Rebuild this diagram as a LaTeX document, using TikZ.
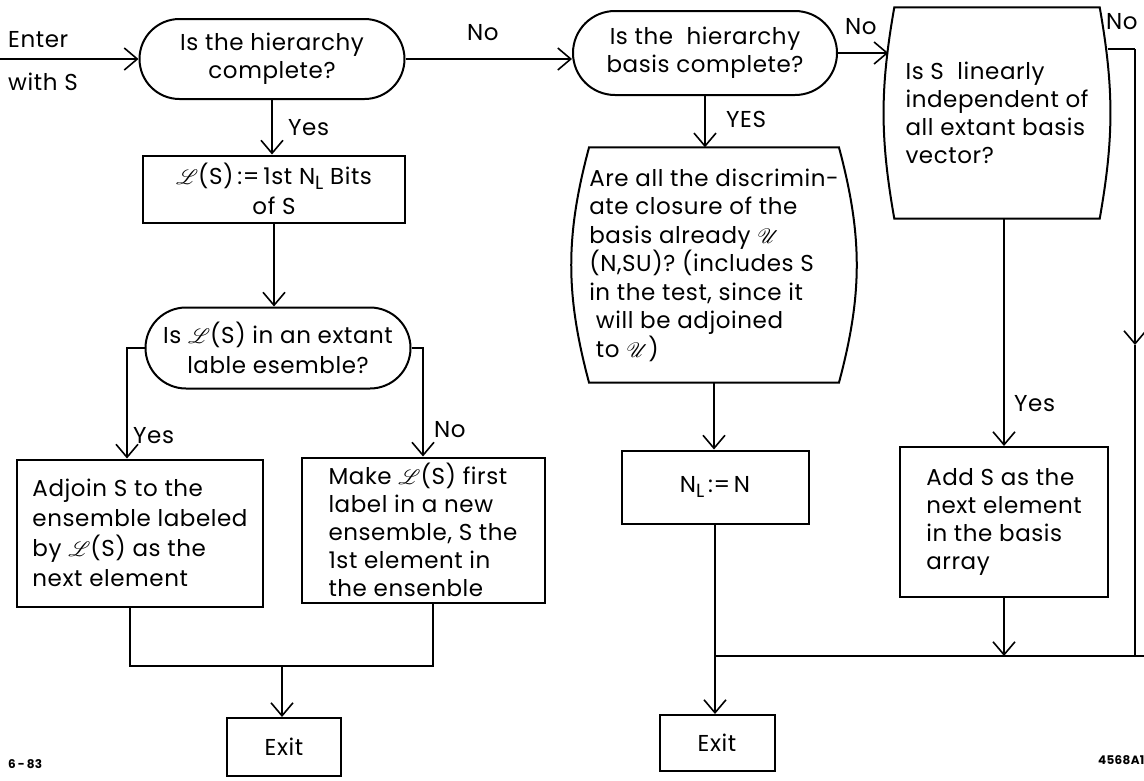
\documentclass[tikz,border=0pt]{standalone}
\usepackage{fontspec}
\setmainfont[LetterSpace=2.5]{Poppins}
\usepackage{mathrsfs}
\usetikzlibrary{shapes.misc,arrows.meta}
\newcommand{\subL}{\raisebox{-0.4ex}{\fontsize{19}{19}\selectfont L}}
\newcommand{\SL}{{\fontsize{22}{22}\selectfont$\mathscr{L}$}}
\newcommand{\SU}{{\fontsize{21}{21}\selectfont$\mathscr{U}$}}
\begin{document}
\begin{tikzpicture}[x=1pt,y=-1pt,
  every node/.style={font=\fontsize{23}{28}\selectfont},
  wide/.style={font=\fontsize{23}{30}\selectfont},
  box/.style={draw,line width=2pt,rectangle,inner sep=0pt},
  term/.style={draw,line width=2pt,rounded rectangle,inner sep=0pt},
  plain/.style={draw=none,inner sep=0pt},
  line/.style={line width=2pt},
  arr/.style={line width=2pt,-{Straight Barb[length=13pt,width=22pt,line width=1.6pt]}},
  lbl/.style={anchor=west,inner sep=0pt},
  tiny/.style={anchor=west,inner sep=0pt,font=\fontsize{12}{12}\selectfont\bfseries}
]
\useasboundingbox (0,0) rectangle (1144,780);

% left column
\node[term,minimum width=265pt,minimum height=80pt,align=center] (t1) at (272,59) {Is the hierarchy\\complete?};
\node[box,wide,minimum width=262pt,minimum height=67pt,align=center] (b1) at (274,189) {\SL(S)\,:=\,1st N\subL{} Bits\\of S};
\node[term,wide,minimum width=265pt,minimum height=81pt,align=center] (t2) at (278,348) {Is \SL(S) in an extant\\lable esemble?};
\node[box,wide,minimum width=246pt,minimum height=147pt,align=left] (b4) at (140,533) {Adjoin S to the\\ensemble labeled\\by \SL(S) as the\\next element};
\node[box,minimum width=243pt,minimum height=145pt,align=left] (b5) at (423,530) {Make \SL(S) first\\label in a new\\ensemble, S the\\1st element in\\the ensenble};
\node[box,minimum width=114pt,minimum height=58pt] (x1) at (284,747) {Exit};

% middle column
\node[term,minimum width=264pt,minimum height=84pt,align=center] (t3) at (705,53) {Is the\ \ hierarchy\\basis complete?};
\node[plain,font=\fontsize{23}{28.5}\selectfont,minimum width=242pt,minimum height=235pt,align=left] (q1) at (714,265) {Are all the discrimin-\\ate closure of the\\basis already \SU\\(N,SU)? (includes S\\in the test, since it\\\ will be adjoined\\\ to \SU)};
\draw[line] (q1.north west) -- (q1.north east) to[bend left=15] (q1.south east) -- (q1.south west) to[bend left=15] (q1.north west) -- cycle;
\node[box,minimum width=187pt,minimum height=73pt] (nl) at (715,487) {N\subL\,:=\,N};
\node[box,minimum width=115pt,minimum height=56pt] (x2) at (717,743) {Exit};

% right column
\node[plain,minimum width=205pt,minimum height=211pt,align=left] (q2) at (997,113) {Is S\ \ linearly\\independent of\\all extant basis\\vector?};
\draw[line] (q2.north west) -- (q2.north east) to[bend left=10] (q2.south east) -- (q2.south west) to[bend left=10] (q2.north west) -- cycle;
\node[box,minimum width=208pt,minimum height=150pt,align=left] (ad) at (1004,522) {Add S as the\\next element\\in the basis\\array};

% labels
\node[lbl] (ent) at (8,40) {Enter};
\node[lbl] (ws) at (8,82) {with S};
\node[lbl] (yes1) at (288,128) {Yes};
\node[lbl] (no1) at (467,33) {No};
\node[lbl] (yes2) at (726,119) {YES};
\node[lbl] (no2) at (845,27) {No};
\node[lbl] (no3) at (1106,22) {No};
\node[lbl] (yes3) at (133,436) {Yes};
\node[lbl] (no4) at (434,430) {No};
\node[lbl] (yes4) at (1014,404) {Yes};
\node[tiny] (d1) at (8,764) {6\,-\,83};
\node[tiny] (d2) at (1098,760) {4568A1};

% connectors
\coordinate (in) at (0,59);
\draw[arr] (in) -- (t1.west);
\draw[arr] (t1.south) -- (t1.south |- b1.north);
\draw[arr] (b1.south) -- (b1.south |- t2.north);
\draw[arr] (t1.east) -- (t1.east -| t3.west);
\draw[arr] (t2.west) -| ([xshift=-13pt]b4.north);
\draw[arr] (t2.east) -| (b5.north);
\coordinate (j1) at (282,666);
\draw[line] ([xshift=-10pt]b4.south) |- (j1) -| ([xshift=10pt]b5.south);
\draw[arr] (j1) -- (j1 |- x1.north);

\draw[arr] (t3.south) -- (t3.south |- q1.north);
\draw[arr] (q1.south) -- (q1.south |- nl.north);
\draw[arr] (nl.south) -- (nl.south |- x2.north);
\draw[arr] (t3.east) -- ([xshift=-6pt]q2.west |- t3.east);

\coordinate (r1) at (1135,49);
\coordinate (r2) at (1135,345);
\coordinate (r3) at (1135,656);
\coordinate (m1) at (1144,656);
\draw[line] ([xshift=8pt]q2.east |- r1) -- (r1);
\draw[arr] (r1) -- (r2);
\draw[line] (r2) -- (r3);
\draw[line] (m1) -- (nl.south |- m1);
\draw[arr] (ad.north |- q2.south) -- (ad.north);
\draw[arr] (ad.south) -- (ad.south |- m1);
\end{tikzpicture}
\end{document}
